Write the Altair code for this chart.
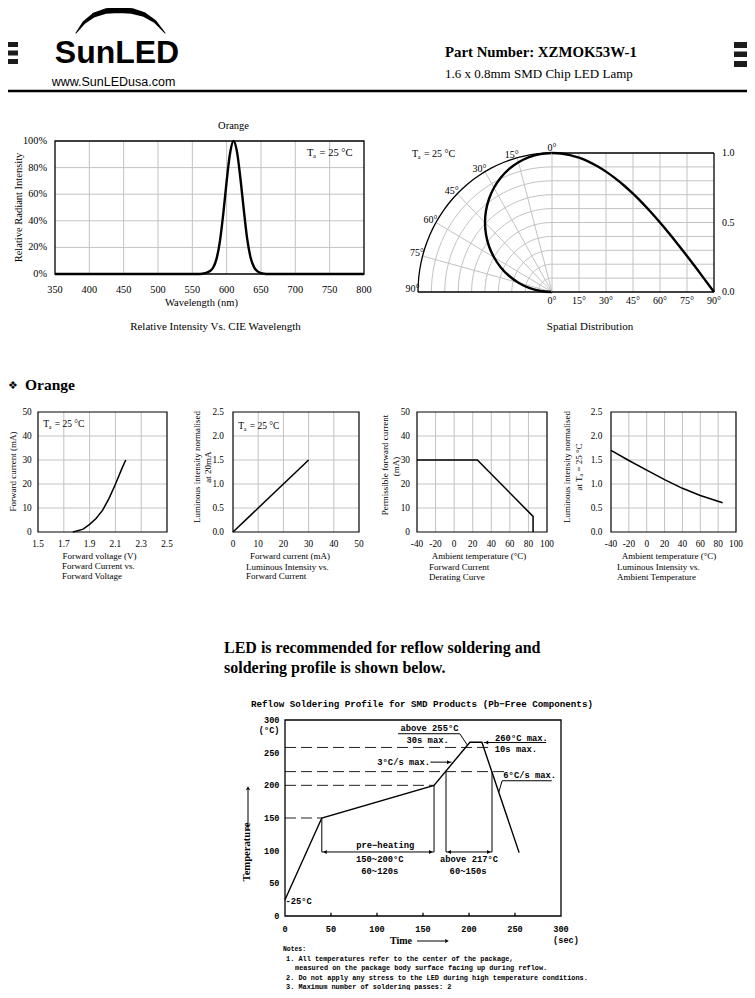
import altair as alt
import pandas as pd

W, H = 739, 982
OX, OY = 8, 8
SERIF = "Liberation Serif, 'Times New Roman', serif"
MONO = "Liberation Mono, 'Courier New', monospace"
SANS = "Liberation Sans, Arial, sans-serif"
GRID = "#c2c2c2"

# ------------------------------------------------------------------ data
wavelength = [350, 560, 565, 570, 575, 580, 585, 590, 595, 600, 605, 610, 615, 620,
              625, 630, 635, 640, 645, 650, 655, 660, 800]
rel_intensity = [0, 0, 0.003, 0.008, 0.02, 0.045, 0.11, 0.24, 0.45, 0.70, 0.91, 1.0, 0.92,
                 0.72, 0.48, 0.26, 0.12, 0.05, 0.02, 0.007, 0.002, 0, 0]
spec_x_ticks = [350, 400, 450, 500, 550, 600, 650, 700, 750, 800]
spec_x_labels = ['350', '400', '450', '500', '550', '600', '650', '700', '750', '800']
spec_y_ticks = [0, 0.2, 0.4, 0.6, 0.8, 1.0]
spec_y_labels = ['0%', '20%', '40%', '60%', '80%', '100%']

spatial_angle = [0, 5, 10, 15, 20, 25, 30, 35, 40, 45, 50, 55, 60, 65, 70, 75, 80, 85, 90]
spatial_rel = [1.0, 0.996, 0.985, 0.966, 0.94, 0.906, 0.866, 0.819, 0.766, 0.707, 0.643,
               0.574, 0.5, 0.423, 0.342, 0.259, 0.174, 0.087, 0.0]
angle_ticks = [0, 15, 30, 45, 60, 75, 90]
angle_labels = ['0°', '15°', '30°', '45°', '60°', '75°', '90°']
ring_ticks = [0.1, 0.2, 0.3, 0.4, 0.5, 0.6, 0.7, 0.8, 0.9, 1.0]
spatial_y_ticks = [0, 0.5, 1.0]
spatial_y_labels = ['0.0', '0.5', '1.0']

vf_volt = [1.77, 1.80, 1.85, 1.90, 1.95, 2.00, 2.05, 2.10, 2.15, 2.18]
vf_curr = [0, 0.4, 1.2, 3.2, 5.6, 9.0, 13.9, 19.9, 26.4, 30]
vf_x_ticks = [1.5, 1.7, 1.9, 2.1, 2.3, 2.5]
vf_x_labels = ['1.5', '1.7', '1.9', '2.1', '2.3', '2.5']
curr_ticks = [0, 10, 20, 30, 40, 50]
curr_labels = ['0', '10', '20', '30', '40', '50']
rel_ticks = [0, 0.5, 1.0, 1.5, 2.0, 2.5]
rel_labels = ['0.0', '0.5', '1.0', '1.5', '2.0', '2.5']

iv_curr = [0, 30]
iv_rel = [0, 1.5]

der_temp = [-40, 25, 85, 85]
der_curr = [30, 30, 6.5, 0]
temp_ticks = [-40, -20, 0, 20, 40, 60, 80, 100]
temp_labels = ['-40', '-20', '0', '20', '40', '60', '80', '100']

lt_temp = [-40, -20, 0, 20, 40, 60, 85]
lt_rel = [1.70, 1.49, 1.29, 1.09, 0.91, 0.76, 0.61]

reflow_time = [0, 40, 162, 201, 214, 254.5]
reflow_temp = [25, 150, 200, 266, 266, 97]
reflow_ticks = [0, 50, 100, 150, 200, 250, 300]
reflow_labels = ['0', '50', '100', '150', '200', '250', '300']
dash_levels = [258, 221, 200, 150]
dash_ends = [222, 240, 162, 40]


# ------------------------------------------------------------------ helpers
def sx(domain, a, b):
    return alt.Scale(domain=domain, range=[a - OX, b - OX], nice=False, zero=False)


def sy(domain, a, b):
    return alt.Scale(domain=domain, range=[a - OY, b - OY], nice=False, zero=False)


XP = alt.Scale(domain=[0, 755], range=[-OX, 755 - OX], nice=False, zero=False)
YP = alt.Scale(domain=[0, 998], range=[-OY, 998 - OY], nice=False, zero=False)


def texts(rows, xs, ys, **style):
    df = pd.DataFrame(rows, columns=['t', 'x', 'y'])
    style.setdefault('color', 'black')
    style.setdefault('baseline', 'alphabetic')
    return alt.Chart(df).mark_text(**style).encode(
        x=alt.X('x:Q', scale=xs, axis=None), y=alt.Y('y:Q', scale=ys, axis=None), text='t:N')


def segs(rows, xs, ys, **style):
    df = pd.DataFrame(rows, columns=['x', 'y', 'x2', 'y2'])
    style.setdefault('color', 'black')
    return alt.Chart(df).mark_rule(**style).encode(
        x=alt.X('x:Q', scale=xs, axis=None), y=alt.Y('y:Q', scale=ys, axis=None),
        x2='x2:Q', y2='y2:Q')


def heads(rows, xs, ys, shape, size=20):
    df = pd.DataFrame(rows, columns=['x', 'y'])
    return alt.Chart(df).mark_point(shape=shape, filled=True, color='black', size=size,
                                     opacity=1).encode(
        x=alt.X('x:Q', scale=xs, axis=None), y=alt.Y('y:Q', scale=ys, axis=None))


def grid(xs, ys, xv, yv, xdom, ydom):
    v = [(x, ydom[0], x, ydom[1]) for x in xv]
    h = [(xdom[0], y, xdom[1], y) for y in yv]
    return [segs(v + h, xs, ys, color=GRID, strokeWidth=1)]


def frame(xs, ys, xdom, ydom, w=1.3):
    df = pd.DataFrame({'x': [xdom[0]], 'x2': [xdom[1]], 'y': [ydom[0]], 'y2': [ydom[1]]})
    return alt.Chart(df).mark_rect(fillOpacity=0, stroke='black', strokeWidth=w).encode(
        x=alt.X('x:Q', scale=xs, axis=None), x2='x2:Q',
        y=alt.Y('y:Q', scale=ys, axis=None), y2='y2:Q')


def xlabels(xs, ys, values, labels, at, dy, size=10, font=SERIF, weight='normal'):
    df = pd.DataFrame({'v': values, 'p': at, 't': labels})
    return alt.Chart(df).mark_text(font=font, fontSize=size, fontWeight=weight, color='black',
                                    align='center', baseline='middle', dy=dy).encode(
        x=alt.X('v:Q', scale=xs, axis=None), y=alt.Y('p:Q', scale=ys, axis=None), text='t:N')


def ylabels(xs, ys, values, labels, at, dx, align='right', size=10, font=SERIF, weight='normal'):
    df = pd.DataFrame({'v': values, 'p': at, 't': labels})
    return alt.Chart(df).mark_text(font=font, fontSize=size, fontWeight=weight, color='black',
                                    align=align, baseline='middle', dx=dx).encode(
        y=alt.Y('v:Q', scale=ys, axis=None), x=alt.X('p:Q', scale=xs, axis=None), text='t:N')


def ta(xs, ys, x, y, size):
    df = pd.DataFrame({'x': [x], 'y': [y]})
    base = alt.Chart(df).encode(x=alt.X('x:Q', scale=xs, axis=None),
                                y=alt.Y('y:Q', scale=ys, axis=None))
    c = dict(align='left', baseline='middle', font=SERIF, color='black')
    return [base.mark_text(text='T', fontSize=size, **c),
            base.mark_text(text='a', fontSize=size * 0.62, dx=size * 0.58, dy=size * 0.3, **c),
            base.mark_text(text='= 25 °C', fontSize=size, dx=size * 1.2, **c)]


L = []

# ------------------------------------------------------------------ page-level items
page = [
    alt.Chart(pd.DataFrame({'x': [0, 0, 0, 734, 734, 734], 'x2': [18, 18, 18, 753, 753, 753],
                            'y': [42, 50.5, 59, 42, 51.5, 61],
                            'y2': [47, 55.5, 64, 48, 57, 67]})).mark_rect(color='#1c1c1c').encode(
        x=alt.X('x:Q', scale=XP, axis=None), x2='x2:Q',
        y=alt.Y('y:Q', scale=YP, axis=None), y2='y2:Q'),
    alt.Chart(pd.DataFrame({'i': list(range(9)),
                            'x': [76, 84, 94, 106, 119, 132, 144, 155, 165],
                            'y': [33, 22.5, 15, 11, 10, 11, 14.5, 21.5, 33],
                            'w': [1, 3, 4.5, 5.5, 6, 5.5, 4.5, 3, 1]})).mark_trail(color='black').encode(
        x=alt.X('x:Q', scale=XP, axis=None), y=alt.Y('y:Q', scale=YP, axis=None),
        size=alt.Size('w:Q', scale=None, legend=None), order='i:Q'),
    texts([('SunLED', 117, 63)], XP, YP, font=SANS, fontSize=32, fontWeight='bold', align='center'),
    texts([('www.SunLEDusa.com', 113.5, 86)], XP, YP, font=SANS, fontSize=12.5, align='center'),
    texts([('Part Number: XZMOK53W-1', 445, 57)], XP, YP, font=SERIF, fontSize=14.8,
          fontWeight='bold', align='left'),
    texts([('1.6 x 0.8mm SMD Chip LED Lamp', 445, 78)], XP, YP, font=SERIF, fontSize=13, align='left'),
    segs([(0, 91, 755, 91)], XP, YP, strokeWidth=2.6),
    # spectrum / spatial captions and titles
    texts([('Relative Intensity Vs. CIE Wavelength', 215.5, 330),
           ('Spatial Distribution', 590, 330)], XP, YP, font=SERIF, fontSize=11, align='center'),
    texts([('Wavelength (nm)', 201.5, 303)], XP, YP, font=SERIF, fontSize=10.5, align='center',
          baseline='middle'),
    texts([('Relative Radiant Intensity', 18.5, 207.5)], XP, YP, font=SERIF, fontSize=10.5,
          align='center', baseline='middle', angle=270),
    texts([('❖', 8, 389)], XP, YP, font="DejaVu Sans", fontSize=11, align='left'),
    texts([('Orange', 25, 390)], XP, YP, font=SERIF, fontSize=15.5, fontWeight='bold', align='left'),
    # small chart titles and captions
    texts([('Forward voltage (V)', 99.5, 556), ('Forward current (mA)', 290, 556),
           ('Ambient temperature (°C)', 479, 556), ('Ambient temperature (°C)', 669, 556)],
          XP, YP, font=SERIF, fontSize=9, align='center', baseline='middle'),
    texts([('Forward current (mA)', 13, 471.5),
           ('Luminous intensity normalised', 196.7, 467), ('at 20mA', 207.5, 467),
           ('Permissible forward current', 385, 465), ('(mA)', 395.7, 466.5),
           ('Luminous intensity normalised', 566.7, 467), ('at Tₐ = 25 °C', 579, 467)],
          XP, YP, font=SERIF, fontSize=9, align='center', baseline='middle', angle=270),
    texts([('Forward Current vs.', 62, 569), ('Forward Voltage', 62, 578.5),
           ('Luminous Intensity vs.', 246, 570), ('Forward Current', 246, 579),
           ('Forward Current', 429, 570), ('Derating  Curve', 429, 580),
           ('Luminous Intensity vs.', 617, 570), ('Ambient Temperature', 617, 580)],
          XP, YP, font=SERIF, fontSize=9, align='left'),
    texts([('LED is recommended for reflow soldering and', 224, 653),
           ('soldering profile is shown below.', 224, 673)], XP, YP, font=SERIF, fontSize=16,
          fontWeight='bold', align='left'),
    # reflow frame texts
    texts([('Reflow Soldering Profile for SMD Products (Pb−Free Components)', 422, 707)], XP, YP,
          font=MONO, fontSize=9.2, fontWeight='bold', align='center'),
    texts([('(°C)', 279.5, 733)], XP, YP, font=MONO, fontSize=8.6, fontWeight='bold', align='right'),
    texts([('(sec)', 566, 943)], XP, YP, font=MONO, fontSize=8.6, fontWeight='bold', align='center'),
    texts([('Time', 401, 944)], XP, YP, font=SERIF, fontSize=10, fontWeight='bold', align='center'),
    texts([('Temperature', 247, 852)], XP, YP, font=SERIF, fontSize=10.6, fontWeight='bold',
          align='center', baseline='middle', angle=270),
    segs([(248, 830, 248, 790), (417, 941, 445, 941)], XP, YP, strokeWidth=1),
    heads([(248, 788)], XP, YP, 'triangle-up', 18),
    heads([(447, 941)], XP, YP, 'triangle-right', 18),
    texts([('Notes:', 283, 950.5)], XP, YP, font=MONO, fontSize=6.4, fontWeight='bold', align='left'),
    texts([('1. All temperatures refer to the center of the package,', 286, 960.5),
           ('measured on the package body surface facing up during reflow.', 295, 969.5),
           ('2. Do not apply any stress to the LED during high temperature conditions.', 286, 979.5),
           ('3. Maximum number of soldering passes: 2', 286, 988.5)], XP, YP,
          font=MONO, fontSize=6.9, fontWeight='bold', align='left'),
]
L.append(alt.layer(*page))

# ------------------------------------------------------------------ spectrum
SPX = sx([350, 800], 55, 364)
SPY = sy([0, 1], 274, 141)
spec_df = pd.DataFrame({'wl': wavelength, 'r': rel_intensity})
spec = grid(SPX, SPY, spec_x_ticks[1:-1], spec_y_ticks[1:-1], [350, 800], [0, 1]) + [
    alt.Chart(spec_df).mark_line(color='black', strokeWidth=2.4, interpolate='monotone').encode(
        x=alt.X('wl:Q', scale=SPX, axis=None), y=alt.Y('r:Q', scale=SPY, axis=None)),
    frame(SPX, SPY, [350, 800], [0, 1]),
    xlabels(SPX, SPY, spec_x_ticks, spec_x_labels, 0, 16, size=10.3),
    ylabels(SPX, SPY, spec_y_ticks, spec_y_labels, 350, -8, size=10.3),
    texts([('Orange', 610, 1.115)], SPX, SPY, font=SERIF, fontSize=10.5, align='center',
          baseline='middle'),
] + ta(SPX, SPY, 717, 0.91, 10.5)
L.append(alt.layer(*spec))

# ------------------------------------------------------------------ spatial: polar half
PLX = sx([-1, 0], 418, 552)
PLY = sy([0, 1], 292, 153)
rings_df = pd.DataFrame([{'r': r, 'a': a} for r in ring_ticks for a in range(0, 91, 3)])
polar_xy = dict(px='-datum.r*sin(datum.a*PI/180)', py='datum.r*cos(datum.a*PI/180)')
ring_enc = dict(x=alt.X('px:Q', scale=PLX, axis=None), y=alt.Y('py:Q', scale=PLY, axis=None),
                detail='r:N', order='a:Q')
sp_df = pd.DataFrame({'a': spatial_angle, 'r': spatial_rel})
rad_df = pd.DataFrame({'a': angle_ticks[1:-1], 'r': 1.0, 'o': 0.0})
lbl_df = pd.DataFrame({'a': angle_ticks[1:], 'r': 1.0, 't': angle_labels[1:]})
polar = [
    alt.Chart(rings_df).transform_filter('datum.r < 0.99').transform_calculate(**polar_xy)
    .mark_line(color=GRID, strokeWidth=1).encode(**ring_enc),
    alt.Chart(rad_df).transform_calculate(**polar_xy).mark_rule(color=GRID, strokeWidth=1).encode(
        x=alt.X('o:Q', scale=PLX, axis=None), y=alt.Y('o:Q', scale=PLY, axis=None),
        x2='px:Q', y2='py:Q'),
    alt.Chart(rings_df).transform_filter('datum.r >= 0.99').transform_calculate(**polar_xy)
    .mark_line(color='black', strokeWidth=1.3).encode(**ring_enc),
    segs([(-1, 0, 0, 0)], PLX, PLY, strokeWidth=1.3),
    alt.Chart(sp_df).transform_calculate(**polar_xy)
    .mark_line(color='black', strokeWidth=2.4, interpolate='cardinal').encode(
        x=alt.X('px:Q', scale=PLX, axis=None), y=alt.Y('py:Q', scale=PLY, axis=None), order='a:Q'),
    alt.Chart(lbl_df).transform_calculate(**polar_xy)
    .mark_text(font=SERIF, fontSize=10, align='right', baseline='middle', dx=1.5, dy=-3,
               color='black').encode(
        x=alt.X('px:Q', scale=PLX, axis=None), y=alt.Y('py:Q', scale=PLY, axis=None), text='t:N'),
    texts([(angle_labels[0], 0, 1)], PLX, PLY, font=SERIF, fontSize=10, align='center',
          baseline='middle', dy=-5),
] + ta(PLX, PLY, -1.045, 0.99, 10)
L.append(alt.layer(*polar))

# ------------------------------------------------------------------ spatial: cartesian half
PRX = sx([0, 90], 552, 714)
PRY = sy([0, 1], 292, 153)
cart = grid(PRX, PRY, angle_ticks[:-1], ring_ticks[:-1], [0, 90], [0, 1]) + [
    segs([(0, 1, 90, 1), (90, 0, 90, 1), (0, 0, 90, 0)], PRX, PRY, strokeWidth=1.3),
    alt.Chart(sp_df).mark_line(color='black', strokeWidth=2.4, interpolate='monotone').encode(
        x=alt.X('a:Q', scale=PRX, axis=None), y=alt.Y('r:Q', scale=PRY, axis=None)),
    xlabels(PRX, PRY, angle_ticks, angle_labels, 0, 9, size=10),
    ylabels(PRX, PRY, spatial_y_ticks, spatial_y_labels, 90, 8, align='left', size=10),
]
L.append(alt.layer(*cart))


# ------------------------------------------------------------------ four small charts
def small(xv, yv, xdom, ydom, x0, x1, xticks, xlab, yticks, ylab, ypad, ta_at=None):
    XS = sx(xdom, x0, x1)
    YS = sy(ydom, 532, 412)
    df = pd.DataFrame({'x': xv, 'y': yv, 'i': list(range(len(xv)))})
    parts = grid(XS, YS, xticks[1:-1], yticks[1:-1], xdom, ydom) + [
        alt.Chart(df).mark_line(color='black', strokeWidth=1.5).encode(
            x=alt.X('x:Q', scale=XS, axis=None), y=alt.Y('y:Q', scale=YS, axis=None),
            order='i:Q'),
        frame(XS, YS, xdom, ydom, 1.2),
        xlabels(XS, YS, xticks, xlab, ydom[0], 12, size=9.3),
        ylabels(XS, YS, yticks, ylab, xdom[0], -ypad, size=9.3),
    ]
    if ta_at:
        parts += ta(XS, YS, ta_at[0], ta_at[1], 9.5)
    return alt.layer(*parts)


L.append(small(vf_volt, vf_curr, [1.5, 2.5], [0, 50], 38, 167, vf_x_ticks, vf_x_labels,
               curr_ticks, curr_labels, 6.3, ta_at=(1.541, 45)))
L.append(small(iv_curr, iv_rel, [0, 50], [0, 2.5], 233, 359, curr_ticks, curr_labels,
               rel_ticks, rel_labels, 9, ta_at=(2.1, 2.21)))
L.append(small(der_temp, der_curr, [-40, 100], [0, 50], 417, 547, temp_ticks, temp_labels,
               curr_ticks, curr_labels, 7))
L.append(small(lt_temp, lt_rel, [-40, 100], [0, 2.5], 611, 736, temp_ticks, temp_labels,
               rel_ticks, rel_labels, 8.7))

# ------------------------------------------------------------------ reflow profile
RX = sx([0, 300], 285, 561)
RY = sy([0, 300], 916, 720)
rf_df = pd.DataFrame({'t': reflow_time, 'T': reflow_temp, 'i': list(range(len(reflow_time)))})
ann = dict(font=MONO, fontSize=8.8, fontWeight='bold', align='center', baseline='middle')
reflow = [
    segs([(0, lv, e, lv) for lv, e in zip(dash_levels, dash_ends)], RX, RY,
         color='#222222', strokeWidth=1, strokeDash=[11, 5]),
    frame(RX, RY, [0, 300], [0, 300], 1.3),
    segs([(t, 0, t, 5) for t in reflow_ticks[1:-1]], RX, RY, strokeWidth=1.3),
    alt.Chart(rf_df).mark_line(color='black', strokeWidth=1.4).encode(
        x=alt.X('t:Q', scale=RX, axis=None), y=alt.Y('T:Q', scale=RY, axis=None), order='i:Q'),
    xlabels(RX, RY, reflow_ticks, reflow_labels, 0, 12.5, size=8.6, font=MONO, weight='bold'),
    ylabels(RX, RY, reflow_ticks, reflow_labels, 0, -5.5, size=8.6, font=MONO, weight='bold'),
    segs([(40, 150, 40, 98), (162, 200, 162, 98), (175, 221, 175, 98), (225, 221, 225, 98),
          (40, 98, 162, 98), (175, 98, 225, 98),
          (123, 279, 190, 279), (190, 279, 198, 262),
          (216, 265.5, 284, 265.5),
          (158, 235.5, 181, 235.5),
          (236, 207, 290, 207), (236, 207, 232.5, 190)], RX, RY, strokeWidth=1),
    heads([(43.5, 98), (178.5, 98), (219, 265.5)], RX, RY, 'triangle-left', 16),
    heads([(158.5, 98), (221.5, 98), (178, 235.5)], RX, RY, 'triangle-right', 16),
    texts([('above 255°C', 157, 288), ('30s max.', 155, 270), ('260°C max.', 257, 273),
           ('10s max.', 251, 256), ('3°C/s max.', 129, 236), ('6°C/s max.', 266, 216),
           ('pre−heating', 109, 108), ('150~200°C', 103, 88), ('60~120s', 103, 69),
           ('above 217°C', 200, 88), ('60~150s', 199, 69)], RX, RY, **ann),
    texts([('-25°C', 0.5, 23)], RX, RY, font=MONO, fontSize=8.8, fontWeight='bold', align='left',
          baseline='middle'),
]
L.append(alt.layer(*reflow))

chart = alt.layer(*L).resolve_scale(x='independent', y='independent').properties(
    width=W, height=H, padding=0, background='white',
    autosize=alt.AutoSizeParams(type='none')
).configure_view(stroke='transparent')

chart.save("out.html", embed_options={"renderer": "svg", "actions": False})
